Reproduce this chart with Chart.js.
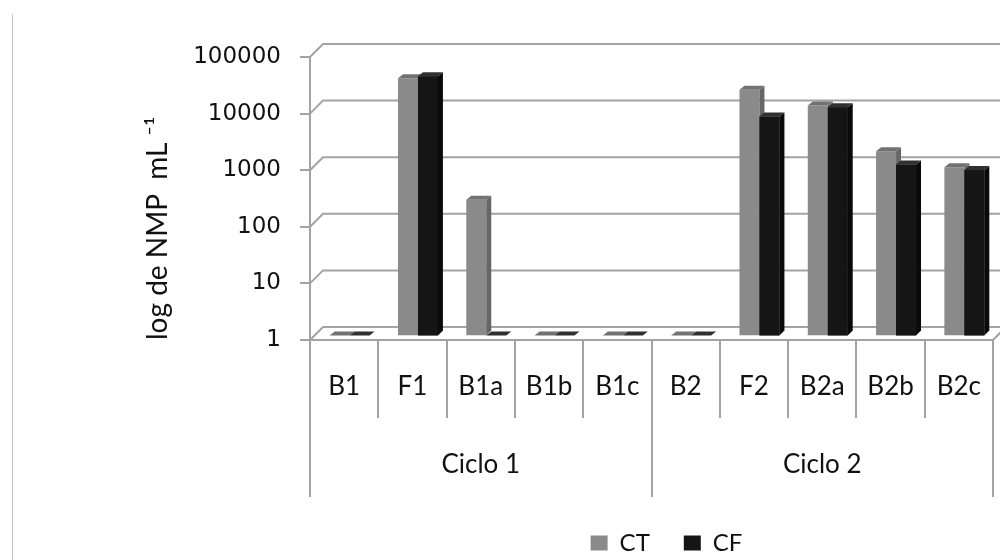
<!DOCTYPE html>
<html><head><meta charset="utf-8">
<script src="https://cdn.jsdelivr.net/npm/chart.js@4/dist/chart.umd.min.js"></script>
<style>
html,body{margin:0;padding:0;background:#fff;overflow:hidden}
#wrap{position:relative;width:1000px;height:560px}
#edge{position:absolute;left:12px;top:14px;width:1px;height:546px;background:#c4c4c4}
canvas{position:absolute;left:0;top:0}
</style></head><body>
<div id="wrap"><div id="edge"></div><canvas id="c" width="1000" height="560"></canvas></div>
<script>
const categories = ['B1','F1','B1a','B1b','B1c','B2','F2','B2a','B2b','B2c'];
const groups = ['Ciclo 1','Ciclo 2'];
const seriesNames = ['CT','CF'];
const ctValues = [1, 35000, 250, 1, 1, 1, 22000, 11600, 1800, 940];
const cfValues = [1, 38000, 1, 1, 1, 1, 7400, 10800, 1050, 840];
const yTicks = [1, 10, 100, 1000, 10000, 100000];

const TEXT = '#111111';
const GRID = '#a3a3a3';
const WALL = {dx: 13, dy: -13};
const BAR_SHIFT = {dx: 5.5, dy: -4.5};
const BAR_DEPTH = {dx: 5, dy: -4};
const faces = [
  {front: '#8a8a8a', top: '#727272', side: '#666666'},
  {front: '#151515', top: '#303030', side: '#0a0a0a'}
];

const threeD = {
  id: 'threeD',
  afterLayout(chart) {
    const lg = chart.legend;
    if (lg) { lg.left += 15; lg.right += 15; }
  },
  beforeDatasetsDraw(chart) {
    const {ctx, chartArea: a, scales: {y}} = chart;
    ctx.save();
    ctx.strokeStyle = GRID; ctx.lineWidth = 2;
    y.ticks.forEach(t => {
      const py = y.getPixelForValue(t.value);
      ctx.beginPath();
      ctx.moveTo(a.left, py);
      ctx.lineTo(a.left + WALL.dx, py + WALL.dy);
      ctx.lineTo(a.right + WALL.dx, py + WALL.dy);
      ctx.stroke();
    });
    ctx.beginPath();
    ctx.moveTo(a.right, a.bottom);
    ctx.lineTo(a.right + WALL.dx, a.bottom + WALL.dy);
    ctx.stroke();
    ctx.restore();
    ctx.save();
    ctx.translate(BAR_SHIFT.dx, BAR_SHIFT.dy);
  },
  afterDatasetsDraw(chart) {
    const ctx = chart.ctx;
    const D = BAR_DEPTH;
    chart.data.datasets.forEach((ds, di) => {
      const meta = chart.getDatasetMeta(di);
      const f = faces[di];
      meta.data.forEach(bar => {
        const {x, y, base, width} = bar.getProps(['x', 'y', 'base', 'width'], true);
        const l = x - width / 2, r = x + width / 2;
        if (di > 0) { ctx.fillStyle = f.front; ctx.fillRect(l, y, width, base - y); }
        if (base - y > 0.5) {
          ctx.fillStyle = f.side;
          ctx.beginPath();
          ctx.moveTo(r, y); ctx.lineTo(r + D.dx, y + D.dy);
          ctx.lineTo(r + D.dx, base + D.dy - 1); ctx.lineTo(r, base);
          ctx.closePath(); ctx.fill();
        }
        ctx.fillStyle = f.top;
        ctx.beginPath();
        ctx.moveTo(l, y); ctx.lineTo(r, y);
        ctx.lineTo(r + D.dx, y + D.dy); ctx.lineTo(l + D.dx, y + D.dy);
        ctx.closePath(); ctx.fill();
      });
    });
    ctx.restore();
  }
};

new Chart(document.getElementById('c'), {
  type: 'bar',
  data: {
    labels: categories,
    datasets: [
      {label: seriesNames[0], data: ctValues, backgroundColor: faces[0].front, borderWidth: 0,
       categoryPercentage: 0.585, barPercentage: 1},
      {label: seriesNames[1], data: cfValues, backgroundColor: faces[1].front, borderWidth: 0,
       categoryPercentage: 0.585, barPercentage: 1}
    ]
  },
  options: {
    responsive: false, animation: false, devicePixelRatio: 1,
    layout: {padding: {left: 0, top: 57, right: 7, bottom: -5}},
    plugins: {
      legend: {
        position: 'bottom', fullSize: false,
        labels: {boxWidth: 17, boxHeight: 15, padding: 34, color: TEXT, font: {family: 'Lato', size: 24}}
      },
      tooltip: {enabled: false}
    },
    scales: {
      x: {
        type: 'category', position: 'bottom', weight: 0, offset: true,
        grid: {offset: true, drawOnChartArea: false, drawTicks: true, tickLength: 78, color: GRID, lineWidth: 2},
        border: {display: true, color: GRID, width: 2},
        ticks: {padding: -47, color: TEXT, font: {family: 'Lato', size: 26}, autoSkip: false, maxRotation: 0, minRotation: 0},
        afterFit(s) { s.height = 78; }
      },
      x2: {
        type: 'category', labels: groups, position: 'bottom', weight: 1, offset: true,
        grid: {offset: true, drawOnChartArea: false, drawTicks: true, tickLength: 79, color: GRID, lineWidth: 2},
        border: {display: false},
        ticks: {padding: -48, color: TEXT, font: {family: 'Lato', size: 26}, autoSkip: false, maxRotation: 0, minRotation: 0},
        afterFit(s) { s.height = 79; }
      },
      y: {
        type: 'logarithmic', position: 'left', min: 1, max: 100000,
        afterBuildTicks(s) { s.ticks = yTicks.map(v => ({value: v})); },
        ticks: {padding: 19, color: TEXT, font: {family: 'DejaVu Sans', size: 23}, callback: (v) => String(v)},
        grid: {drawOnChartArea: false, drawTicks: true, tickLength: 10, color: GRID, lineWidth: 2},
        border: {display: true, color: GRID, width: 2},
        title: {display: true, text: 'log de NMP  mL \u207B\u00B9', align: 'start', color: TEXT,
                font: {family: 'Lato', size: 28}, padding: {top: 141, bottom: 0}},
        afterFit(s) { s.width = 310; }
      }
    }
  },
  plugins: [threeD]
});
</script>
</body></html>
